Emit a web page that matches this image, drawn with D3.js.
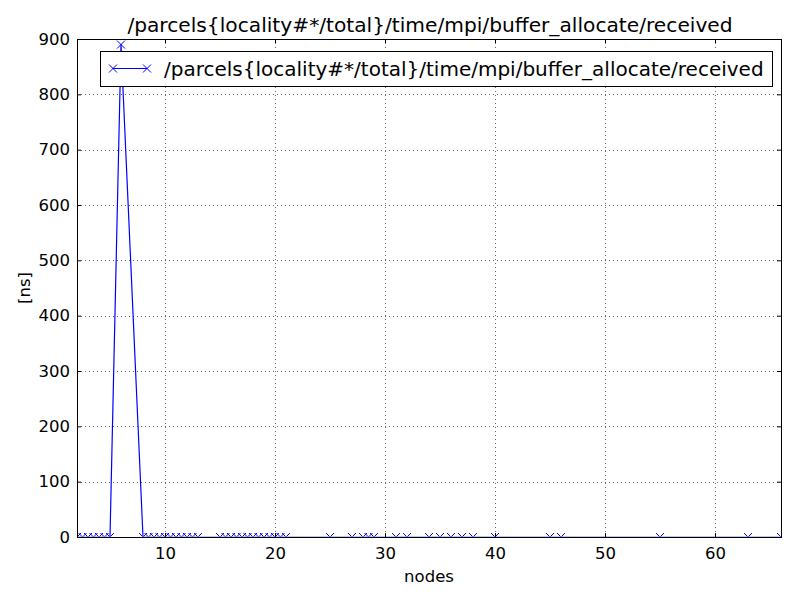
<!DOCTYPE html>
<html>
<head>
<meta charset="utf-8">
<script src="https://cdn.jsdelivr.net/npm/d3@7"></script>
<style>
  body { margin: 0; background: #fff; }
  svg { font-family: "DejaVu Sans", sans-serif; }
</style>
</head>
<body>
<svg id="chart" width="800" height="600"></svg>
<script>
// values
const seriesName = "/parcels{locality#*/total}/time/mpi/buffer_allocate/received";
const nodes = [2, 2.5, 3, 3.5, 4, 4.5, 5, 6, 8, 8.5, 9, 9.5, 10, 10.5, 11, 11.5, 12, 12.5, 13,
  15, 15.5, 16, 16.5, 17, 17.5, 18, 18.5, 19, 19.5, 20, 20.5, 21,
  25, 27, 28, 28.5, 29, 31, 32, 34, 35, 36, 37, 38, 40, 45, 46, 55, 63, 66];
const timeNs = [0, 0, 0, 0, 0, 0, 0, 890, 0, 0, 0, 0, 0, 0, 0, 0, 0, 0, 0,
  0, 0, 0, 0, 0, 0, 0, 0, 0, 0, 0, 0, 0,
  0, 0, 0, 0, 0, 0, 0, 0, 0, 0, 0, 0, 0, 0, 0, 0, 0, 0];
const xTicks = [10, 20, 30, 40, 50, 60];
const yTicks = [0, 100, 200, 300, 400, 500, 600, 700, 800, 900];

const width = 800, height = 600;
const margin = { top: 39, right: 19, bottom: 63, left: 77 };
const w = width - margin.left - margin.right;
const h = height - margin.top - margin.bottom;

const data = nodes.map((n, i) => ({ x: n, y: timeNs[i] }));

const svg = d3.select("#chart");
const g = svg.append("g")
  .attr("transform", "translate(" + margin.left + "," + margin.top + ")");

const xScale = d3.scaleLinear().domain([2, 66]).range([0, w]);
const yScale = d3.scaleLinear().domain([0, 900]).range([h, 0]);

// clip to the axes area, like matplotlib does
svg.append("defs").append("clipPath").attr("id", "plotclip")
  .append("rect").attr("x", 0).attr("y", 0).attr("width", w).attr("height", h - 0.5);

// grid
g.append("g").selectAll("line.gx")
  .data(xTicks).enter().append("line")
  .attr("x1", d => xScale(d) + 0.5).attr("x2", d => xScale(d) + 0.5)
  .attr("y1", 0).attr("y2", h)
  .attr("stroke", "#000").attr("stroke-width", 0.6)
  .attr("stroke-dasharray", "1,3");
g.append("g").selectAll("line.gy")
  .data(yTicks.slice(1, -1)).enter().append("line")
  .attr("x1", 0).attr("x2", w)
  .attr("y1", d => Math.round(yScale(d)) + 0.5).attr("y2", d => Math.round(yScale(d)) + 0.5)
  .attr("stroke", "#000").attr("stroke-width", 0.6)
  .attr("stroke-dasharray", "1,3");

// axes (ticks inside, on all four sides)
const tickLen = 4;
const xAxis = g.append("g").attr("transform", "translate(0," + h + ")")
  .call(d3.axisBottom(xScale).tickValues(xTicks).tickSize(-tickLen).tickPadding(10).tickFormat(d3.format("d")));
const xAxisTop = g.append("g")
  .call(d3.axisTop(xScale).tickValues(xTicks).tickSize(-tickLen).tickFormat(""));
const yAxis = g.append("g")
  .call(d3.axisLeft(yScale).tickValues(yTicks).tickSize(-tickLen).tickPadding(7).tickFormat(d3.format("d")));
const yAxisRight = g.append("g").attr("transform", "translate(" + w + ",0)")
  .call(d3.axisRight(yScale).tickValues(yTicks).tickSize(-tickLen).tickFormat(""));

[xAxis, xAxisTop, yAxis, yAxisRight].forEach(a => {
  a.select(".domain").remove();
  a.selectAll("line").attr("stroke", "#000");
  a.selectAll("text").attr("fill", "#000").style("font-size", "16.5px")
    .style("font-family", "DejaVu Sans, sans-serif");
});

// line + markers
const plot = g.append("g").attr("clip-path", "url(#plotclip)");
const line = d3.line().x(d => xScale(d.x)).y(d => yScale(d.y));
plot.append("path").datum(data)
  .attr("d", line)
  .attr("fill", "none")
  .attr("stroke", "#0000ff")
  .attr("stroke-width", 1.2);

const ms = 4;
const cross = "M" + (-ms) + "," + (-ms) + "L" + ms + "," + ms + "M" + (-ms) + "," + ms + "L" + ms + "," + (-ms);
plot.selectAll("path.mk")
  .data(data).enter().append("path")
  .attr("class", "mk")
  .attr("transform", d => "translate(" + xScale(d.x) + "," + yScale(d.y) + ")")
  .attr("d", cross)
  .attr("fill", "none")
  .attr("stroke", "#0000ff")
  .attr("stroke-width", 1);

// frame
g.append("rect").attr("x", 0.5).attr("y", 0.5).attr("width", w).attr("height", h)
  .attr("fill", "none").attr("stroke", "#000").attr("stroke-width", 1);

// title and labels
svg.append("text")
  .attr("x", margin.left + w / 2 + 1).attr("y", 32)
  .attr("text-anchor", "middle")
  .style("font-size", "20.2px")
  .text(seriesName);

svg.append("text")
  .attr("x", margin.left + w / 2).attr("y", 582)
  .attr("text-anchor", "middle")
  .style("font-size", "16.5px")
  .text("nodes");

svg.append("text")
  .attr("transform", "translate(30," + (margin.top + h / 2) + ") rotate(-90)")
  .attr("text-anchor", "middle")
  .style("font-size", "16.5px")
  .text("[ns]");

// legend
const legend = svg.append("g").attr("transform", "translate(100,51)");
legend.append("rect")
  .attr("x", 0.5).attr("y", 0.5).attr("width", 672).attr("height", 35)
  .attr("fill", "#fff").attr("stroke", "#000").attr("stroke-width", 1);
legend.append("line")
  .attr("x1", 13).attr("x2", 47).attr("y1", 17.5).attr("y2", 17.5)
  .attr("stroke", "#0000ff").attr("stroke-width", 1.2);
[13, 47].forEach(px => {
  legend.append("path")
    .attr("transform", "translate(" + px + ",17.5)")
    .attr("d", cross)
    .attr("fill", "none").attr("stroke", "#0000ff").attr("stroke-width", 1);
});
legend.append("text")
  .attr("x", 64).attr("y", 24.5)
  .style("font-size", "20px")
  .text(seriesName);
</script>
</body>
</html>
